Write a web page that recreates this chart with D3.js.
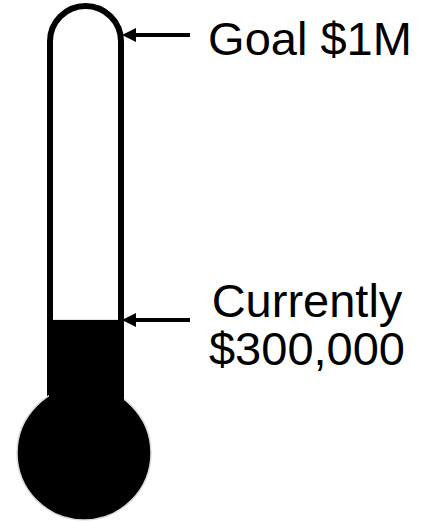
<!DOCTYPE html>
<html>
<head>
<meta charset="utf-8">
<script src="https://cdn.jsdelivr.net/npm/d3@7"></script>
<style>
  body { margin: 0; background: #fff; }
  svg { display: block; }
</style>
</head>
<body>
<div id="chart"></div>
<script>
// values
var goal = 1000000;
var current = 300000;
var goalLabel = ["Goal $1M"];
var currentLabel = ["Currently", "$300,000"];

var width = 431, height = 523;

var svg = d3.select('#chart').append('svg')
    .attr('width', width)
    .attr('height', height);

// value -> vertical position along the tube
var y = d3.scaleLinear()
    .domain([0, goal])
    .range([442, 35]);

var tubeLeft = 50, tubeRight = 121;
var tubeR = (tubeRight - tubeLeft) / 2;
var tubeCx = tubeLeft + tubeR;
var arcY = 41.5;
var tubeBottom = 400;

// tube outline
var p = d3.path();
p.moveTo(tubeLeft, tubeBottom);
p.lineTo(tubeLeft, arcY);
p.arc(tubeCx, arcY, tubeR, Math.PI, 0);
p.lineTo(tubeRight, tubeBottom);
svg.append('path')
    .attr('d', p.toString())
    .attr('fill', 'none')
    .attr('stroke', '#000')
    .attr('stroke-width', 6);

// bulb
svg.append('circle')
    .attr('cx', 84)
    .attr('cy', 453)
    .attr('r', 67)
    .attr('fill', '#000')
    .attr('stroke', '#dcdcdc')
    .attr('stroke-width', 1.5);

// mercury
svg.append('rect')
    .attr('x', tubeLeft - 1)
    .attr('y', y(current))
    .attr('width', tubeRight - tubeLeft + 4)
    .attr('height', tubeBottom + 10 - y(current))
    .attr('fill', '#000');

// arrows
function arrow(yy) {
  svg.append('line')
      .attr('x1', 134).attr('y1', yy)
      .attr('x2', 190).attr('y2', yy)
      .attr('stroke', '#000')
      .attr('stroke-width', 4);
  svg.append('path')
      .attr('d', 'M' + 122 + ',' + yy + 'L' + 136 + ',' + (yy - 7) + 'L' + 136 + ',' + (yy + 7) + 'Z')
      .attr('fill', '#000');
}
arrow(y(goal));
arrow(y(current));

var font = '"Liberation Sans", Arial, Helvetica, sans-serif';

svg.append('text')
    .attr('x', 310)
    .attr('y', 55)
    .attr('text-anchor', 'middle')
    .attr('font-family', font)
    .attr('font-size', 47)
    .attr('fill', '#000')
    .text(goalLabel[0]);

svg.selectAll('.cur')
    .data(currentLabel)
    .enter().append('text')
    .attr('class', 'cur')
    .attr('x', 307)
    .attr('y', function (d, i) { return 317 + i * 48; })
    .attr('text-anchor', 'middle')
    .attr('font-family', font)
    .attr('font-size', 47)
    .attr('fill', '#000')
    .text(function (d) { return d; });
</script>
</body>
</html>
